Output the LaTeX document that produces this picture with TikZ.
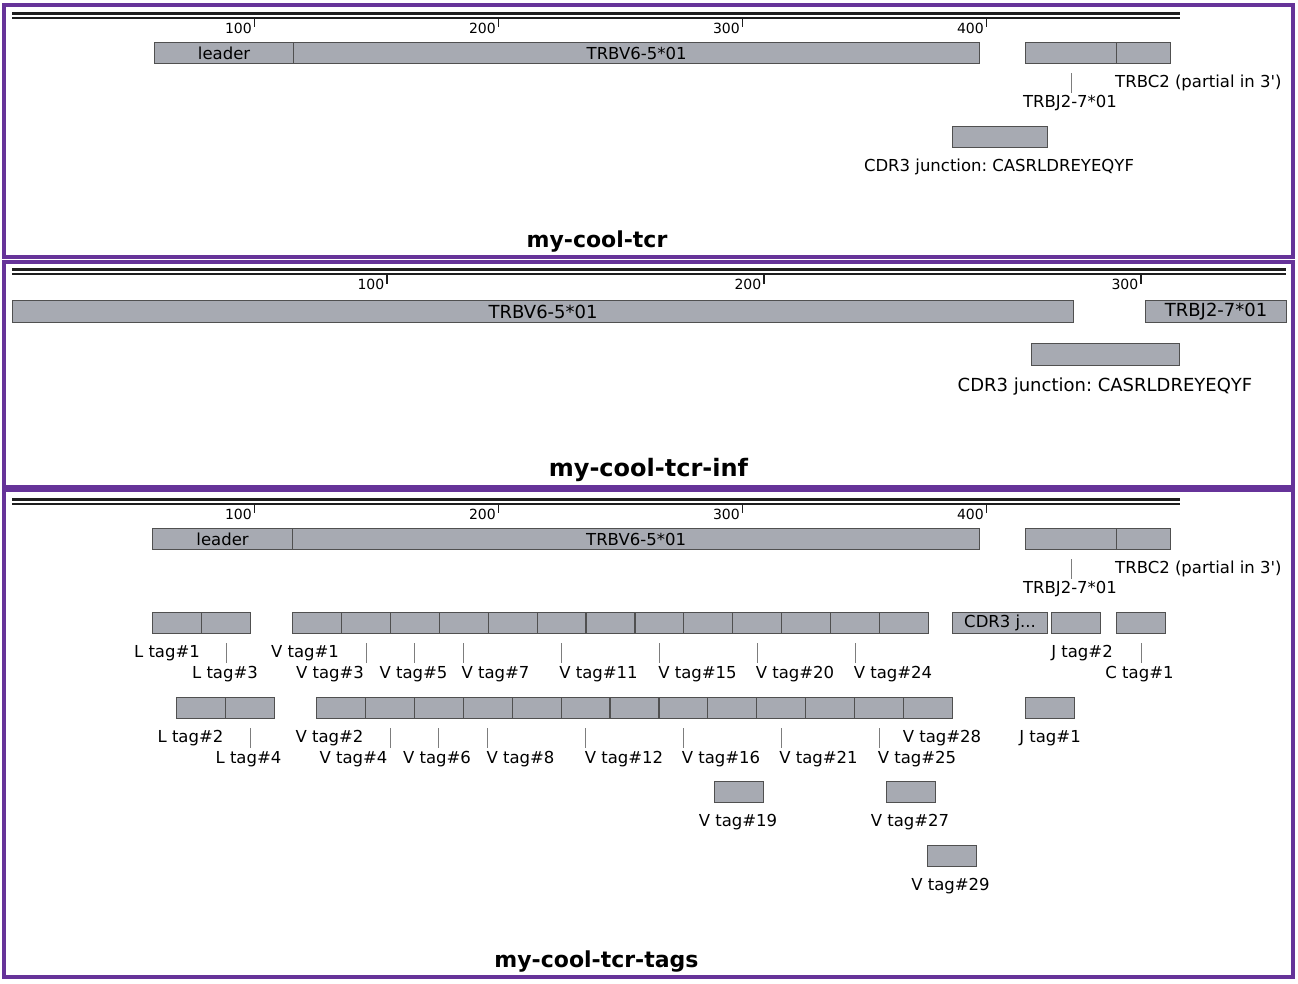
\documentclass[tikz,border=0pt]{standalone}
\usepackage{fontspec}
\setmainfont{DejaVu Sans}
\frenchspacing
\definecolor{panelpurple}{RGB}{102,51,153}
\definecolor{segfill}{RGB}{167,170,178}
\definecolor{segline}{RGB}{80,80,80}
\definecolor{leadline}{RGB}{125,125,125}
\definecolor{rulercol}{RGB}{30,30,30}
\newcommand\lblfont{\fontsize{16.5}{19}\selectfont}
\newcommand\lblfontb{\fontsize{18}{21}\selectfont}
\newcommand\rulefont{\fontsize{14}{16}\selectfont}
\begin{document}
\begin{tikzpicture}[x=1pt,y=-1pt,
  seg/.style={draw=segline, fill=segfill, line width=1.2pt, inner sep=0pt, minimum height=21pt, anchor=north west, font=\lblfont},
  segb/.style={seg, minimum height=22pt, font=\lblfontb},
  lab/.style={inner sep=0pt, font=\lblfont, anchor=base},
  labb/.style={lab, font=\lblfontb},
  ticklab/.style={inner sep=0pt, font=\rulefont, anchor=base east},
  ttl/.style={inner sep=0pt, font=\fontsize{22}{26}\selectfont\bfseries, anchor=base},
  lead/.style={draw=leadline, line width=0.9pt},
  rulerA/.style={draw=rulercol, line width=2.6pt},
  rulerB/.style={draw=rulercol, line width=2pt},
  tickmark/.style={draw=rulercol, line width=1.2pt},
  panel/.style={draw=panelpurple, line width=4pt}]
\useasboundingbox (0,0) rectangle (1298,983);
\fill[white] (0,0) rectangle (1298,983);

% ---------------- panel 1 ----------------
\draw[panel] (4,5) rectangle (1293,257);
\draw[rulerA] (12,13.5) -- (1180,13.5);
\draw[rulerB] (12,17.8) -- (1180,17.8);
\foreach \n/\t in {100/254.5,200/498.5,300/742.5,400/986.5}{
  \draw[tickmark] (\t,18) -- (\t,27);
  \node[ticklab] (p1t\n) at (\t-2.5,33) {\n};
}
\node[seg, minimum width=139pt] (p1lead) at (154,42) {leader};
\node[seg, minimum width=686pt] (p1v) at (293,42) {TRBV6-5*01};
\node[seg, minimum width=91pt] (p1j) at (1025,42) {};
\node[seg, minimum width=54pt] (p1c) at (1116,42) {};
\draw[lead] ([yshift=-9pt]p1j.south) -- ++(0,20);
\node[lab, anchor=base west] (p1clab) at (1115,87) {TRBC2 (partial in 3\textquotesingle)};
\node[lab] (p1jlab) at (1070,107) {TRBJ2-7*01};
\node[seg, minimum width=95pt] (p1cdr) at (952,126) {};
\node[lab] (p1cdrlab) at (999,171) {CDR3 junction: CASRLDREYEQYF};
\node[ttl] (p1title) at (597,247) {my-cool-tcr};

% ---------------- panel 2 ----------------
\draw[panel] (4,262) rectangle (1293,486.5);
\draw[rulerA] (12,269.5) -- (1286,269.5);
\draw[rulerB] (12,273.6) -- (1286,273.6);
\foreach \n/\t in {100/387,200/764,300/1141}{
  \draw[tickmark] (\t,274) -- (\t,284);
  \node[ticklab] (p2t\n) at (\t-2.5,289.5) {\n};
}
\node[segb, minimum width=1061pt] (p2v) at (12,300) {TRBV6-5*01};
\node[segb, minimum width=141pt] (p2j) at (1145,300) {TRBJ2-7*01};
\node[segb, minimum width=148pt] (p2cdr) at (1031,343) {};
\node[labb] (p2cdrlab) at (1105,391) {CDR3 junction: CASRLDREYEQYF};
\node[ttl, font=\fontsize{24}{28}\selectfont\bfseries] (p2title) at (648.5,476) {my-cool-tcr-inf};

% ---------------- panel 3 ----------------
\draw[panel] (4,489.5) rectangle (1293,977);
\draw[rulerA] (12,499.5) -- (1180,499.5);
\draw[rulerB] (12,503.8) -- (1180,503.8);
\foreach \n/\t in {100/254.5,200/498.5,300/742.5,400/986.5}{
  \draw[tickmark] (\t,504) -- (\t,513);
  \node[ticklab] (p3t\n) at (\t-2.5,519) {\n};
}
\node[seg, minimum width=140pt] (p3lead) at (152,528) {leader};
\node[seg, minimum width=687pt] (p3v) at (292,528) {TRBV6-5*01};
\node[seg, minimum width=91pt] (p3j) at (1025,528) {};
\node[seg, minimum width=54pt] (p3c) at (1116,528) {};
\draw[lead] ([yshift=-9pt]p3j.south) -- ++(0,20);
\node[lab, anchor=base west] (p3clab) at (1115,573) {TRBC2 (partial in 3\textquotesingle)};
\node[lab] (p3jlab) at (1070,593) {TRBJ2-7*01};

% row 1 of tags
\node[seg, minimum width=49pt] (lt1) at (152,612) {};
\node[seg, minimum width=49pt] (lt3) at (201,612) {};
\foreach \i in {0,...,12}{
  \node[seg, minimum width=48.9pt] (ra\i) at ({292+48.9*\i},612) {};
}
\node[seg, minimum width=95pt] (cdrj) at (952,612) {CDR3 j...};
\node[seg, minimum width=49pt] (jt2) at (1051,612) {};
\node[seg, minimum width=49pt] (ct1) at (1116,612) {};
\draw[lead] ([yshift=-9pt]lt3.south) -- ++(0,20);
\foreach \i in {1,2,3,5,7,9,11}{
  \draw[lead] ([yshift=-9pt]ra\i.south) -- ++(0,20);
}
\draw[lead] ([yshift=-9pt]ct1.south) -- ++(0,20);
\node[lab] (llt1) at (167,657) {L tag\#1};
\node[lab] (lva1) at (305,657) {V tag\#1};
\node[lab] (ljt2) at (1082,657) {J tag\#2};
\node[lab] (llt3) at (225,678) {L tag\#3};
\node[lab] (lva3) at (330,678) {V tag\#3};
\node[lab] (lva5) at (413.5,678) {V tag\#5};
\node[lab] (lva7) at (495.5,678) {V tag\#7};
\node[lab] (lva11) at (598.5,678) {V tag\#11};
\node[lab] (lva15) at (697.5,678) {V tag\#15};
\node[lab] (lva20) at (795,678) {V tag\#20};
\node[lab] (lva24) at (893,678) {V tag\#24};
\node[lab] (lct1) at (1139.5,678) {C tag\#1};

% row 2 of tags
\node[seg, minimum width=49pt] (lt2) at (176,697) {};
\node[seg, minimum width=49pt] (lt4) at (225,697) {};
\foreach \i in {0,...,12}{
  \node[seg, minimum width=48.9pt] (rb\i) at ({316+48.9*\i},697) {};
}
\node[seg, minimum width=49pt] (jt1) at (1025,697) {};
\draw[lead] ([yshift=-9pt]lt4.south) -- ++(0,20);
\foreach \i in {1,2,3,5,7,9,11}{
  \draw[lead] ([yshift=-9pt]rb\i.south) -- ++(0,20);
}
\node[lab] (llt2) at (190.5,742) {L tag\#2};
\node[lab] (lvb2) at (329.5,742) {V tag\#2};
\node[lab] (lvb28) at (942,742) {V tag\#28};
\node[lab] (ljt1) at (1050,742) {J tag\#1};
\node[lab] (llt4) at (248.5,763) {L tag\#4};
\node[lab] (lvb4) at (353.5,763) {V tag\#4};
\node[lab] (lvb6) at (437,763) {V tag\#6};
\node[lab] (lvb8) at (520.5,763) {V tag\#8};
\node[lab] (lvb12) at (624,763) {V tag\#12};
\node[lab] (lvb16) at (721,763) {V tag\#16};
\node[lab] (lvb21) at (818.5,763) {V tag\#21};
\node[lab] (lvb25) at (917,763) {V tag\#25};

% rows 3 and 4
\node[seg, minimum width=49pt] (vt19) at (714,781) {};
\node[seg, minimum width=49pt] (vt27) at (886,781) {};
\node[lab] (lvt19) at (738,826) {V tag\#19};
\node[lab] (lvt27) at (910,826) {V tag\#27};
\node[seg, minimum width=49pt] (vt29) at (927,845) {};
\node[lab] (lvt29) at (950.5,890) {V tag\#29};

\node[ttl] (p3title) at (596.5,967) {my-cool-tcr-tags};
\end{tikzpicture}
\end{document}
